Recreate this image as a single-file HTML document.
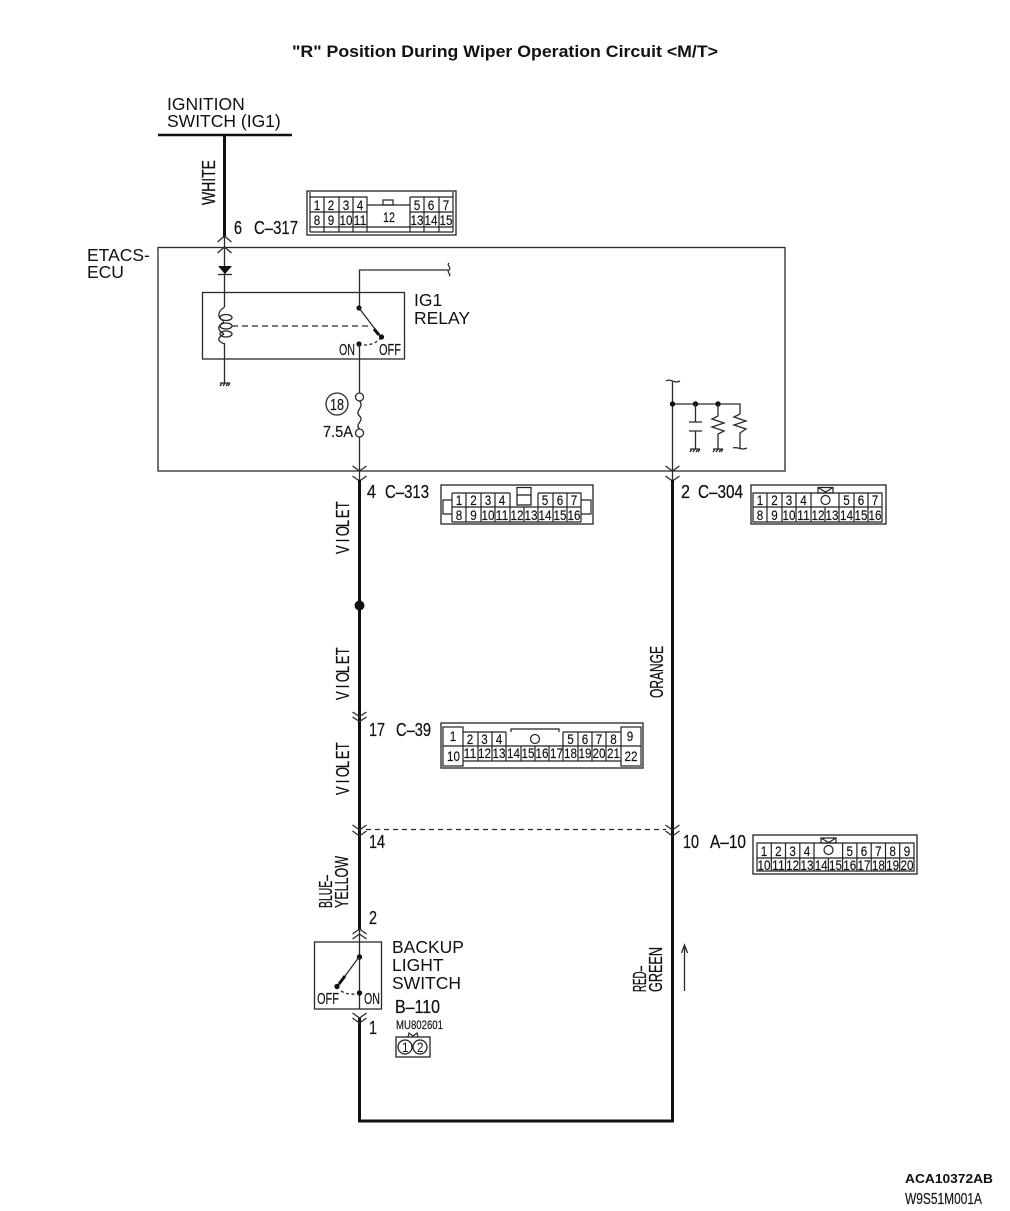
<!DOCTYPE html>
<html><head><meta charset="utf-8"><title>"R" Position During Wiper Operation Circuit</title>
<style>
html,body{margin:0;padding:0;background:#fff;width:1010px;height:1211px;overflow:hidden}
svg{display:block}
text{font-family:"Liberation Sans",sans-serif;fill:#111}
.n text{font-size:14px;text-anchor:middle;stroke:#111;stroke-width:.15}
.l{font-size:18.5px;stroke:#111;stroke-width:.25}
.h{font-size:17.500px}
.s{font-size:16px;stroke:#111;stroke-width:.15}
.b{fill:none;stroke:#222;stroke-width:1.3}
.c{fill:none;stroke:#222;stroke-width:1.200}
.w{fill:none;stroke:#111;stroke-width:3}
.t{fill:none;stroke:#2a2a2a;stroke-width:1.300}
.d{fill:#111;stroke:none}
</style></head><body>
<svg width="1010" height="1211" viewBox="0 0 1010 1211" xmlns="http://www.w3.org/2000/svg">
<text x="292" y="57" font-size="16.500" font-weight="bold" textLength="426" lengthAdjust="spacingAndGlyphs">"R" Position During Wiper Operation Circuit &lt;M/T&gt;</text>

<text class="h" x="167" y="110">IGNITION</text>
<text class="h" x="167" y="127">SWITCH (IG1)</text>
<path d="M158 135H292" class="w" style="stroke-width:2.500"/>
<path d="M224.500 135V237" class="w"/>
<path d="M224.500 236V307M224.500 343V383" class="t"/>
<text class="l" transform="translate(215,205) rotate(-90)" textLength="45" lengthAdjust="spacingAndGlyphs">WHITE</text>
<text class="l" x="234" y="234" textLength="8" lengthAdjust="spacingAndGlyphs">6</text>
<text class="l" x="254" y="234" textLength="44" lengthAdjust="spacingAndGlyphs">C–317</text>
<path class="t" d="M217.500 242l7-6 7 6M217.500 253l7-6 7 6"/>

<!-- ECU -->
<rect x="158" y="247.500" width="627" height="223.500" class="t"/>
<text class="h" x="87" y="261">ETACS-</text>
<text class="h" x="87" y="278">ECU</text>

<!-- diode -->
<path class="d" d="M218 266H232L225 274Z"/><path d="M218 274.500H232" class="t"/>

<!-- relay -->
<rect x="202.500" y="292.500" width="202" height="66.500" class="t"/>
<path class="t" d="M224.500 307C217 312 217 318 224 321M224 322C217 326 217 330 224 334M224 334C217 338 217 341 224.500 344"/>
<ellipse cx="226" cy="317.500" rx="6" ry="3" class="t"/>
<ellipse cx="226" cy="326" rx="6" ry="3" class="t"/>
<ellipse cx="226" cy="334" rx="6" ry="3" class="t"/>
<path d="M232 326H373" class="t" stroke-dasharray="6 4"/>
<path class="t" d="M220 383H230M220 386l2-3M223 386l2-3M226 386l2-3M228 386l2-3"/>
<path class="t" d="M359.500 308V270H448"/>
<path class="t" d="M449 263c-3 3 3 4 0 7s3 4 0 6"/>
<circle class="d" cx="359" cy="308" r="2.600"/>
<path d="M359 308L381 337" class="t"/><path d="M374 329L379 335" class="w"/>
<circle class="d" cx="381.500" cy="337" r="2.600"/>
<circle class="d" cx="359" cy="344" r="2.600"/>
<path class="t" d="M364 345Q374 345 380 339" stroke-dasharray="3 2.500"/>
<text class="s" x="339" y="355" textLength="16" lengthAdjust="spacingAndGlyphs">ON</text>
<text class="s" x="379" y="355" textLength="22" lengthAdjust="spacingAndGlyphs">OFF</text>
<text class="h" x="414" y="306">IG1</text>
<text class="h" x="414" y="324">RELAY</text>
<path class="t" d="M359.500 344V393"/>
<circle cx="359.500" cy="397" r="4" class="t"/>
<circle cx="359.500" cy="433" r="4" class="t"/>
<path class="t" d="M359.500 401C365 407 354 411 359.500 416C365 421 354 424 359.500 429"/>
<circle cx="337" cy="404" r="11" class="t"/>
<text class="s" x="330" y="410" textLength="14" lengthAdjust="spacingAndGlyphs">18</text>
<text class="s" x="323" y="437" textLength="30" lengthAdjust="spacingAndGlyphs">7.5A</text>
<path class="t" d="M359.500 437V480"/>
<path class="t" d="M352.500 466l7 5 7-5M352.500 476l7 5 7-5"/>

<!-- right ECU internals -->
<path class="t" d="M672.500 382V480M672.500 404H740V414"/>
<path class="t" d="M666 381c4-3 8 3 14 0"/>
<circle class="d" cx="672.500" cy="404" r="2.700"/>
<circle class="d" cx="695.500" cy="404" r="2.700"/>
<circle class="d" cx="718" cy="404" r="2.700"/>
<path class="t" d="M695.500 404V422M689 422H702M689 431H702M695.500 431V449"/>
<path class="t" d="M690 449H700M690 452l2-3M693 452l2-3M696 452l2-3M698 452l2-3"/>
<path class="t" d="M718 404V416L712 419L724 423L712 427L724 431L718 434V449"/>
<path class="t" d="M713 449H723M713 452l2-3M716 452l2-3M719 452l2-3M721 452l2-3"/>
<path class="t" d="M740 414L734 417L746 421L734 425L746 429L740 433V448"/>
<path class="t" d="M733 448c4-2 8 3 14 0"/>
<path class="t" d="M665.500 466l7 5 7-5M665.500 476l7 5 7-5"/>

<!-- main wires -->
<path class="w" d="M359.500 480V930M359.500 1018V1121H672.500V480"/>
<path class="t" d="M359.500 930V1009"/>
<circle class="d" cx="359.500" cy="605.500" r="5"/>
<path class="t" d="M352.500 712l7 4.500 7-4.500M352.500 717l7 4.500 7-4.500"/>
<path class="t" d="M352.500 825l7 5 7-5M352.500 831l7 5 7-5"/>
<path class="t" d="M665.500 825l7 5 7-5M665.500 831l7 5 7-5"/>
<path d="M366 829.500H666" class="t" stroke-dasharray="5 4"/>
<path class="t" d="M352.500 934l7-5 7 5M352.500 939l7-5 7 5"/>
<path class="t" d="M352.500 1013l7 5 7-5M352.500 1018l7 5 7-5"/>

<!-- wire labels -->
<text class="l" transform="translate(349,554) rotate(-90) scale(.7,1)" x="0 16.8 25.6 38.4 51.2 64">VIOLET</text>
<text class="l" transform="translate(349,700) rotate(-90) scale(.7,1)" x="0 16.8 25.6 38.4 51.2 64">VIOLET</text>
<text class="l" transform="translate(349,795) rotate(-90) scale(.7,1)" x="0 16.8 25.6 38.4 51.2 64">VIOLET</text>
<text class="l" transform="translate(663,698) rotate(-90)" textLength="52" lengthAdjust="spacingAndGlyphs">ORANGE</text>
<text class="l" transform="translate(332,908) rotate(-90)" textLength="33" lengthAdjust="spacingAndGlyphs">BLUE–</text>
<text class="l" transform="translate(348,908) rotate(-90)" textLength="52" lengthAdjust="spacingAndGlyphs">YELLOW</text>
<text class="l" transform="translate(646,992) rotate(-90)" textLength="26" lengthAdjust="spacingAndGlyphs">RED–</text>
<text class="l" transform="translate(662,992) rotate(-90)" textLength="45" lengthAdjust="spacingAndGlyphs">GREEN</text>
<path class="t" d="M684.500 991V946M681.500 953L684.500 945L687.500 953"/>

<!-- pin labels -->
<text class="l" x="367" y="498" textLength="9" lengthAdjust="spacingAndGlyphs">4</text>
<text class="l" x="385" y="498" textLength="44" lengthAdjust="spacingAndGlyphs">C–313</text>
<text class="l" x="681" y="498" textLength="9" lengthAdjust="spacingAndGlyphs">2</text>
<text class="l" x="698" y="498" textLength="45" lengthAdjust="spacingAndGlyphs">C–304</text>
<text class="l" x="369" y="736" textLength="16" lengthAdjust="spacingAndGlyphs">17</text>
<text class="l" x="396" y="736" textLength="35" lengthAdjust="spacingAndGlyphs">C–39</text>
<text class="l" x="369" y="848" textLength="16" lengthAdjust="spacingAndGlyphs">14</text>
<text class="l" x="683" y="848" textLength="16" lengthAdjust="spacingAndGlyphs">10</text>
<text class="l" x="710" y="848" textLength="36" lengthAdjust="spacingAndGlyphs">A–10</text>
<text class="l" x="369" y="924" textLength="8" lengthAdjust="spacingAndGlyphs">2</text>
<text class="l" x="369" y="1034" textLength="8" lengthAdjust="spacingAndGlyphs">1</text>

<!-- backup switch -->
<rect x="314.500" y="942" width="67" height="67" class="t"/>
<circle class="d" cx="359.500" cy="957" r="2.700"/>
<path class="t" d="M359 957L337 987"/><path class="w" d="M345 976L339 984"/>
<circle class="d" cx="337" cy="986.500" r="2.700"/>
<circle class="d" cx="359.500" cy="993" r="2.700"/>
<path class="t" d="M341 991Q348 995 356 994" stroke-dasharray="3 2.500"/>
<text class="s" x="317" y="1004" textLength="22" lengthAdjust="spacingAndGlyphs">OFF</text>
<text class="s" x="364" y="1004" textLength="16" lengthAdjust="spacingAndGlyphs">ON</text>
<text class="h" x="392" y="953">BACKUP</text>
<text class="h" x="392" y="971">LIGHT</text>
<text class="h" x="392" y="989">SWITCH</text>
<text class="l" x="395" y="1013" textLength="45" lengthAdjust="spacingAndGlyphs">B–110</text>
<text x="396" y="1029" font-size="11.500" stroke="#111" stroke-width=".15" textLength="47" lengthAdjust="spacingAndGlyphs">MU802601</text>
<rect x="396" y="1037" width="34" height="20" class="b"/>
<circle cx="405" cy="1047" r="7" class="b"/><circle cx="420" cy="1047" r="7" class="b"/>
<path class="c" d="M408 1037L409 1033L413 1036L417 1033L418 1037"/>
<text x="402" y="1052" font-size="14" textLength="6.500" lengthAdjust="spacingAndGlyphs">1</text>
<text x="417" y="1052" font-size="14" textLength="6.500" lengthAdjust="spacingAndGlyphs">2</text>

<!-- C-317 -->
<rect x="307" y="191" width="149" height="44" class="b"/>
<path class="c" d="M310 232V197H367V227M310 212H367M324 197V232M339 197V232M353 197V232M367 205H410M410 197H453V232M410 197V232M410 212H453M424 197V232M439 197V232M310 227H453M310 232H453M310 197V192M453 197V192M367 227V232M410 227V232"/>
<rect x="383" y="200" width="10" height="5" class="c"/>
<g class="n">
<text x="317" y="210" textLength="6.500" lengthAdjust="spacingAndGlyphs">1</text><text x="331" y="210" textLength="6.500" lengthAdjust="spacingAndGlyphs">2</text><text x="346" y="210" textLength="6.500" lengthAdjust="spacingAndGlyphs">3</text><text x="360" y="210" textLength="6.500" lengthAdjust="spacingAndGlyphs">4</text>
<text x="417" y="210" textLength="6.500" lengthAdjust="spacingAndGlyphs">5</text><text x="431" y="210" textLength="6.500" lengthAdjust="spacingAndGlyphs">6</text><text x="446" y="210" textLength="6.500" lengthAdjust="spacingAndGlyphs">7</text>
<text x="317" y="225" textLength="6.500" lengthAdjust="spacingAndGlyphs">8</text><text x="331" y="225" textLength="6.500" lengthAdjust="spacingAndGlyphs">9</text><text x="346" y="225" textLength="13" lengthAdjust="spacingAndGlyphs">10</text><text x="360" y="225" textLength="13" lengthAdjust="spacingAndGlyphs">11</text>
<text x="389" y="222" textLength="12" lengthAdjust="spacingAndGlyphs">12</text>
<text x="417" y="225" textLength="13" lengthAdjust="spacingAndGlyphs">13</text><text x="431" y="225" textLength="13" lengthAdjust="spacingAndGlyphs">14</text><text x="446" y="225" textLength="13" lengthAdjust="spacingAndGlyphs">15</text>
</g>

<!-- C-313 -->
<rect x="441" y="485" width="152" height="39" class="b"/>
<path class="c" d="M452 493H510M452 493V522M466 493V522M481 493V522M495 493V522M510 493V507M538 493H581V522M538 493V507M553 493V522M567 493V522M452 507H581M452 522H581M510 507V522M524 507V522M538 507V522"/>
<rect x="517" y="495" width="14" height="10" class="b"/>
<path class="c" d="M517 495V487.500H531V495"/>
<path class="c" d="M452 500H443V514H452M581 500H591V514H581"/>
<g class="n">
<text x="459" y="505" textLength="6.500" lengthAdjust="spacingAndGlyphs">1</text><text x="473.500" y="505" textLength="6.500" lengthAdjust="spacingAndGlyphs">2</text><text x="488" y="505" textLength="6.500" lengthAdjust="spacingAndGlyphs">3</text><text x="502" y="505" textLength="6.500" lengthAdjust="spacingAndGlyphs">4</text>
<text x="545" y="505" textLength="6.500" lengthAdjust="spacingAndGlyphs">5</text><text x="560" y="505" textLength="6.500" lengthAdjust="spacingAndGlyphs">6</text><text x="574" y="505" textLength="6.500" lengthAdjust="spacingAndGlyphs">7</text>
<text x="459" y="520" textLength="6.500" lengthAdjust="spacingAndGlyphs">8</text><text x="473.500" y="520" textLength="6.500" lengthAdjust="spacingAndGlyphs">9</text><text x="488" y="520" textLength="13" lengthAdjust="spacingAndGlyphs">10</text><text x="502" y="520" textLength="13" lengthAdjust="spacingAndGlyphs">11</text><text x="517" y="520" textLength="13" lengthAdjust="spacingAndGlyphs">12</text><text x="531" y="520" textLength="13" lengthAdjust="spacingAndGlyphs">13</text><text x="545" y="520" textLength="13" lengthAdjust="spacingAndGlyphs">14</text><text x="560" y="520" textLength="13" lengthAdjust="spacingAndGlyphs">15</text><text x="574" y="520" textLength="13" lengthAdjust="spacingAndGlyphs">16</text>
</g>

<!-- C-304 -->
<rect x="751" y="485" width="135" height="39" class="b"/>
<path class="c" d="M753 493H882V522H753ZM753 507H882M767 493V522M782 493V522M796 493V522M811 493V522M839 493V522M854 493V522M868 493V522M825 507V522"/>
<path class="c" d="M818 487.500H833V493H818ZM818 487.500L825.500 492L833 487.500"/>
<circle cx="825.500" cy="500" r="4.500" class="c"/>
<g class="n">
<text x="760" y="505" textLength="6.500" lengthAdjust="spacingAndGlyphs">1</text><text x="774.500" y="505" textLength="6.500" lengthAdjust="spacingAndGlyphs">2</text><text x="789" y="505" textLength="6.500" lengthAdjust="spacingAndGlyphs">3</text><text x="803.500" y="505" textLength="6.500" lengthAdjust="spacingAndGlyphs">4</text>
<text x="846.500" y="505" textLength="6.500" lengthAdjust="spacingAndGlyphs">5</text><text x="861" y="505" textLength="6.500" lengthAdjust="spacingAndGlyphs">6</text><text x="875" y="505" textLength="6.500" lengthAdjust="spacingAndGlyphs">7</text>
<text x="760" y="520" textLength="6.500" lengthAdjust="spacingAndGlyphs">8</text><text x="774.500" y="520" textLength="6.500" lengthAdjust="spacingAndGlyphs">9</text><text x="789" y="520" textLength="13" lengthAdjust="spacingAndGlyphs">10</text><text x="803.500" y="520" textLength="13" lengthAdjust="spacingAndGlyphs">11</text><text x="818" y="520" textLength="13" lengthAdjust="spacingAndGlyphs">12</text><text x="832" y="520" textLength="13" lengthAdjust="spacingAndGlyphs">13</text><text x="846.500" y="520" textLength="13" lengthAdjust="spacingAndGlyphs">14</text><text x="861" y="520" textLength="13" lengthAdjust="spacingAndGlyphs">15</text><text x="875" y="520" textLength="13" lengthAdjust="spacingAndGlyphs">16</text>
</g>

<!-- C-39 -->
<rect x="441" y="723" width="202" height="45" class="b"/>
<rect x="443" y="727" width="20" height="39" class="c"/>
<rect x="621" y="727" width="20" height="39" class="c"/>
<path class="c" d="M443 746H463M621 746H641M463 732H506M563 732H621M463 746H621M463 761H621M478 732V761M492 732V761M506 732V761M521 746V761M535 746V761M549 746V761M563 732V761M578 732V761M592 732V761M606 732V761"/>
<path class="c" d="M511 732V729H559V732"/>
<circle cx="535" cy="739" r="4.500" class="c"/>
<g class="n">
<text x="453" y="741" textLength="6.500" lengthAdjust="spacingAndGlyphs">1</text><text x="470" y="744" textLength="6.500" lengthAdjust="spacingAndGlyphs">2</text><text x="484.500" y="744" textLength="6.500" lengthAdjust="spacingAndGlyphs">3</text><text x="499" y="744" textLength="6.500" lengthAdjust="spacingAndGlyphs">4</text>
<text x="570.500" y="744" textLength="6.500" lengthAdjust="spacingAndGlyphs">5</text><text x="585" y="744" textLength="6.500" lengthAdjust="spacingAndGlyphs">6</text><text x="599" y="744" textLength="6.500" lengthAdjust="spacingAndGlyphs">7</text><text x="613.500" y="744" textLength="6.500" lengthAdjust="spacingAndGlyphs">8</text><text x="630" y="741" textLength="6.500" lengthAdjust="spacingAndGlyphs">9</text>
<text x="453.500" y="761" textLength="13" lengthAdjust="spacingAndGlyphs">10</text><text x="470" y="758" textLength="13" lengthAdjust="spacingAndGlyphs">11</text><text x="484.500" y="758" textLength="13" lengthAdjust="spacingAndGlyphs">12</text><text x="499" y="758" textLength="13" lengthAdjust="spacingAndGlyphs">13</text><text x="513.500" y="758" textLength="13" lengthAdjust="spacingAndGlyphs">14</text><text x="528" y="758" textLength="13" lengthAdjust="spacingAndGlyphs">15</text><text x="542" y="758" textLength="13" lengthAdjust="spacingAndGlyphs">16</text><text x="556.500" y="758" textLength="13" lengthAdjust="spacingAndGlyphs">17</text><text x="570.500" y="758" textLength="13" lengthAdjust="spacingAndGlyphs">18</text><text x="585" y="758" textLength="13" lengthAdjust="spacingAndGlyphs">19</text><text x="599" y="758" textLength="13" lengthAdjust="spacingAndGlyphs">20</text><text x="613.500" y="758" textLength="13" lengthAdjust="spacingAndGlyphs">21</text><text x="631" y="761" textLength="13" lengthAdjust="spacingAndGlyphs">22</text>
</g>

<!-- A-10 -->
<rect x="753" y="835" width="164" height="39" class="b"/>
<path class="c" d="M757 843H914V871H757ZM757 858H914M771.300 843V871M785.500 843V871M799.800 843V871M814 843V871M828.400 858V871M842.600 843V871M856.900 843V871M871.200 843V871M885.500 843V871M899.700 843V871"/>
<path class="c" d="M821 838H836V843H821ZM821 838L828.500 842.500L836 838"/>
<circle cx="828.500" cy="850" r="4.500" class="c"/>
<g class="n">
<text x="764" y="856" textLength="6.500" lengthAdjust="spacingAndGlyphs">1</text><text x="778.400" y="856" textLength="6.500" lengthAdjust="spacingAndGlyphs">2</text><text x="792.600" y="856" textLength="6.500" lengthAdjust="spacingAndGlyphs">3</text><text x="807" y="856" textLength="6.500" lengthAdjust="spacingAndGlyphs">4</text>
<text x="849.800" y="856" textLength="6.500" lengthAdjust="spacingAndGlyphs">5</text><text x="864" y="856" textLength="6.500" lengthAdjust="spacingAndGlyphs">6</text><text x="878.400" y="856" textLength="6.500" lengthAdjust="spacingAndGlyphs">7</text><text x="892.600" y="856" textLength="6.500" lengthAdjust="spacingAndGlyphs">8</text><text x="907" y="856" textLength="6.500" lengthAdjust="spacingAndGlyphs">9</text>
<text x="764" y="870" textLength="13" lengthAdjust="spacingAndGlyphs">10</text><text x="778.400" y="870" textLength="13" lengthAdjust="spacingAndGlyphs">11</text><text x="792.600" y="870" textLength="13" lengthAdjust="spacingAndGlyphs">12</text><text x="807" y="870" textLength="13" lengthAdjust="spacingAndGlyphs">13</text><text x="821.200" y="870" textLength="13" lengthAdjust="spacingAndGlyphs">14</text><text x="835.500" y="870" textLength="13" lengthAdjust="spacingAndGlyphs">15</text><text x="849.800" y="870" textLength="13" lengthAdjust="spacingAndGlyphs">16</text><text x="864" y="870" textLength="13" lengthAdjust="spacingAndGlyphs">17</text><text x="878.400" y="870" textLength="13" lengthAdjust="spacingAndGlyphs">18</text><text x="892.600" y="870" textLength="13" lengthAdjust="spacingAndGlyphs">19</text><text x="907" y="870" textLength="13" lengthAdjust="spacingAndGlyphs">20</text>
</g>

<text x="905" y="1183" font-size="13" font-weight="bold" textLength="88" lengthAdjust="spacingAndGlyphs">ACA10372AB</text>
<text x="905" y="1204" font-size="16" stroke="#111" stroke-width=".15" textLength="77" lengthAdjust="spacingAndGlyphs">W9S51M001A</text>
</svg>
</body></html>
